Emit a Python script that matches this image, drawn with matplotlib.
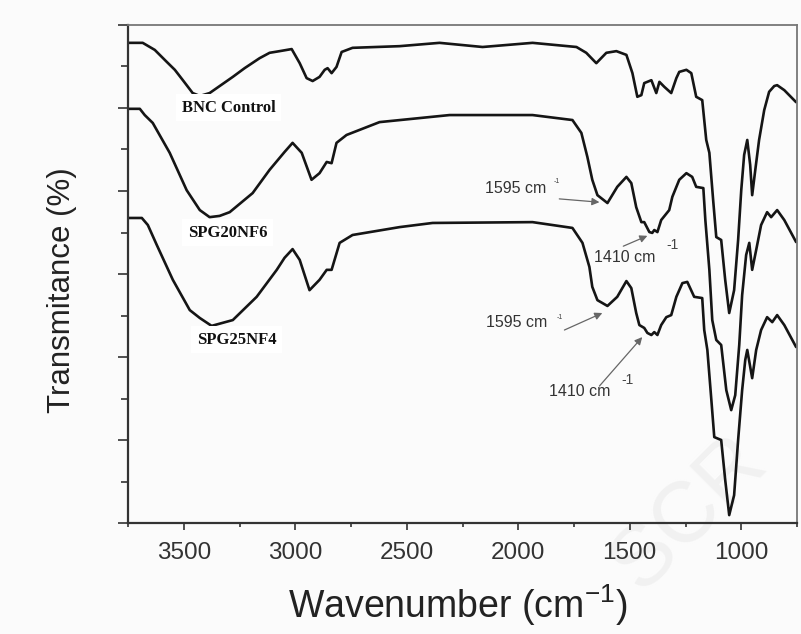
import matplotlib.pyplot as plt
from matplotlib.ticker import MultipleLocator

plt.rcParams['font.family'] = ['Liberation Sans', 'DejaVu Sans']
plt.rcParams['mathtext.fontset'] = 'custom'
plt.rcParams['mathtext.rm'] = 'Liberation Sans'
plt.rcParams['mathtext.it'] = 'Liberation Sans:italic'

# FTIR spectra (wavenumber in cm-1, transmittance in arbitrary offset units)
bnc_wn = [3750, 3684, 3630, 3576, 3540, 3504, 3460, 3428, 3384, 3280, 3227, 3160, 3115,
          3070, 3016, 2980, 2949, 2922, 2891, 2868, 2855, 2837, 2815, 2792, 2743, 2532,
          2353, 2160, 1936, 1739, 1695, 1650, 1605, 1560, 1515, 1488, 1466, 1448, 1435,
          1403, 1381, 1367, 1345, 1314, 1291, 1278, 1246, 1224, 1202, 1175, 1157, 1143,
          1126, 1112, 1090, 1072, 1054, 1032, 1014, 1000, 987, 973, 960, 951, 937,
          920, 897, 875, 852, 839, 807, 754]
bnc_t = [115.7, 115.7, 114.0, 111.1, 109.2, 106.7, 103.6, 102.9, 103.6, 107.5, 109.6, 112.0, 113.3,
         113.7, 114.2, 110.8, 107.2, 106.5, 107.5, 109.2, 109.6, 108.4, 109.9, 113.5, 114.5, 114.9,
         115.7, 114.7, 115.7, 114.7, 113.3, 110.8, 113.3, 113.7, 112.8, 108.4, 102.7, 103.1, 106.0,
         106.7, 103.6, 106.3, 105.1, 103.6, 107.2, 108.7, 109.2, 108.4, 102.7, 101.9, 92.3, 89.2,
         77.8, 68.9, 68.2, 58.6, 50.6, 56.1, 68.2, 80.2, 88.7, 92.3, 86.3, 79.0, 85.1,
         92.3, 99.5, 103.9, 105.3, 105.5, 104.3, 101.4]

spg20_wn = [3750, 3697, 3675, 3639, 3563, 3487, 3428, 3384, 3339, 3294, 3191, 3115, 3048,
            3012, 2971, 2927, 2891, 2859, 2837, 2815, 2770, 2622, 2308, 1936, 1757, 1717,
            1690, 1668, 1645, 1600, 1556, 1515, 1493, 1471, 1448, 1435, 1412, 1399, 1390,
            1376, 1359, 1323, 1309, 1278, 1246, 1220, 1202, 1170, 1161, 1143, 1130,
            1112, 1090, 1067, 1045, 1027, 1009, 996, 978, 964, 951, 933, 911, 884,
            866, 839, 807, 754]
spg20_t = [99.8, 99.8, 98.3, 96.4, 89.2, 80.2, 75.4, 73.7, 74.0, 74.9, 79.5, 85.1, 89.4,
           91.6, 89.2, 82.7, 84.3, 87.0, 86.7, 91.6, 93.5, 96.6, 98.3, 98.3, 97.1, 94.0,
           88.2, 82.7, 79.0, 77.1, 81.0, 83.4, 81.9, 76.1, 72.5, 72.5, 70.1, 69.9, 70.6,
           70.1, 73.0, 75.4, 78.6, 82.7, 84.3, 83.4, 81.0, 80.7, 73.0, 61.0, 48.9,
           44.1, 42.9, 32.0, 27.2, 30.8, 42.9, 54.9, 64.6, 67.5, 61.0, 65.8, 71.8, 74.9,
           73.7, 75.4, 73.0, 67.7]

spg25_wn = [3750, 3688, 3661, 3621, 3549, 3473, 3428, 3375, 3280, 3173, 3083, 3048, 3012,
            2980, 2936, 2891, 2859, 2837, 2801, 2743, 2532, 2384, 1936, 1757, 1712, 1681,
            1668, 1645, 1600, 1556, 1515, 1493, 1471, 1457, 1435, 1421, 1403, 1390, 1376,
            1359, 1336, 1314, 1291, 1264, 1242, 1211, 1175, 1166, 1152, 1134, 1121,
            1090, 1072, 1054, 1032, 1014, 996, 982, 973, 951, 933, 911, 884, 861,
            839, 807, 754]
spg25_t = [73.5, 73.5, 71.8, 67.0, 58.6, 51.3, 49.4, 47.5, 48.9, 54.5, 61.0, 63.9, 66.0,
           63.4, 56.1, 58.6, 61.0, 61.0, 67.5, 69.4, 71.3, 72.3, 72.5, 71.1, 67.5, 61.7,
           56.9, 53.7, 52.3, 54.5, 58.3, 56.6, 50.6, 47.7, 47.0, 45.8, 45.3, 46.0, 45.3,
           47.7, 49.6, 50.1, 54.5, 57.8, 58.1, 54.5, 54.2, 46.5, 41.7, 29.6, 20.7,
           20.0, 10.4, 1.9, 6.7, 20.0, 32.0, 39.3, 41.7, 34.9, 41.7, 46.5, 49.6, 48.4,
           50.1, 47.7, 42.4]

# sample names and where they sit
sample_names = ['BNC Control', 'SPG20NF6', 'SPG25NF4']
name_pos = [(3509, 100.0), (3482, 69.9), (3442, 44.1)]

# band annotations: label, label position, superscript position, arrow tail, arrow tip
band_labels = ['1595 cm', '1410 cm', '1595 cm', '1410 cm']
band_text_pos = [(2151, 80.7), (1659, 63.9), (2143, 48.4), (1860, 31.6)]
band_sup_pos = [(1842, 82.4), (1336, 67.0), (1829, 49.6), (1538, 34.5)]
band_sup_size = [5, 10, 5, 10]
arrow_tail = [(1816, 78.1), (1529, 66.7), (1793, 46.5), (1636, 33.0)]
arrow_tip = [(1636, 77.3), (1421, 69.2), (1623, 50.6), (1444, 44.8)]

fig = plt.figure(figsize=(8.01, 6.34), dpi=100, facecolor='#fbfbfb')

# faint watermark behind everything
fig.text(0.86, 0.19, 'SCR', fontsize=62, rotation=45, color='#f1f1f1',
         ha='center', va='center', zorder=-5)

ax = fig.add_axes([128 / 801, 1 - 523 / 634, 669 / 801, 498 / 634])
ax.set_facecolor('none')

for wn, t in [(bnc_wn, bnc_t), (spg20_wn, spg20_t), (spg25_wn, spg25_t)]:
    ax.plot(wn, t, color='#151515', lw=1.9, solid_joinstyle='round',
            solid_capstyle='round')

for name, (x, y) in zip(sample_names, name_pos):
    ax.text(x, y, name, family='Liberation Serif', fontweight='bold', fontsize=12,
            color='#111', ha='left', va='center',
            bbox=dict(facecolor='white', edgecolor='none', pad=4))

for i in range(len(band_labels)):
    ax.text(*band_text_pos[i], band_labels[i], fontsize=11.5, color='#333',
            ha='left', va='center')
    ax.text(*band_sup_pos[i], '-1', fontsize=band_sup_size[i], color='#444',
            ha='left', va='center')
    ax.annotate('', xy=arrow_tip[i], xytext=arrow_tail[i],
                arrowprops=dict(arrowstyle='-|>', color='#666', lw=0.9,
                                mutation_scale=11, shrinkA=0, shrinkB=0))

ax.set_xlim(3750, 750)
ax.set_ylim(0, 120)
ax.xaxis.set_major_locator(MultipleLocator(500))
ax.xaxis.set_minor_locator(MultipleLocator(250))
ax.yaxis.set_major_locator(MultipleLocator(20))
ax.yaxis.set_minor_locator(MultipleLocator(10))

ax.tick_params(axis='x', which='major', direction='out', length=5, width=1.2,
               colors='#333', labelsize=17.5, pad=9)
ax.tick_params(axis='x', which='minor', direction='out', length=3, width=1.2,
               colors='#333')
ax.tick_params(axis='y', which='major', direction='out', length=7, width=1.2,
               colors='#333', labelleft=False)
ax.tick_params(axis='y', which='minor', direction='out', length=5, width=1.2,
               colors='#333')

for side in ['left', 'bottom']:
    ax.spines[side].set_linewidth(1.6)
    ax.spines[side].set_color('#333')
for side in ['top', 'right']:
    ax.spines[side].set_linewidth(1.3)
    ax.spines[side].set_color('#777')

fig.text(62 / 801, 1 - 290 / 634, 'Transmitance (%)', rotation=90, fontsize=22.5,
         color='#222', ha='center', va='center')
fig.text(458 / 801, 1 - 618 / 634, r'Wavenumber (cm$^{-1}$)', fontsize=27,
         color='#222', ha='center', va='baseline')

plt.savefig('out.png', dpi=100, facecolor=fig.get_facecolor())
plt.close()
